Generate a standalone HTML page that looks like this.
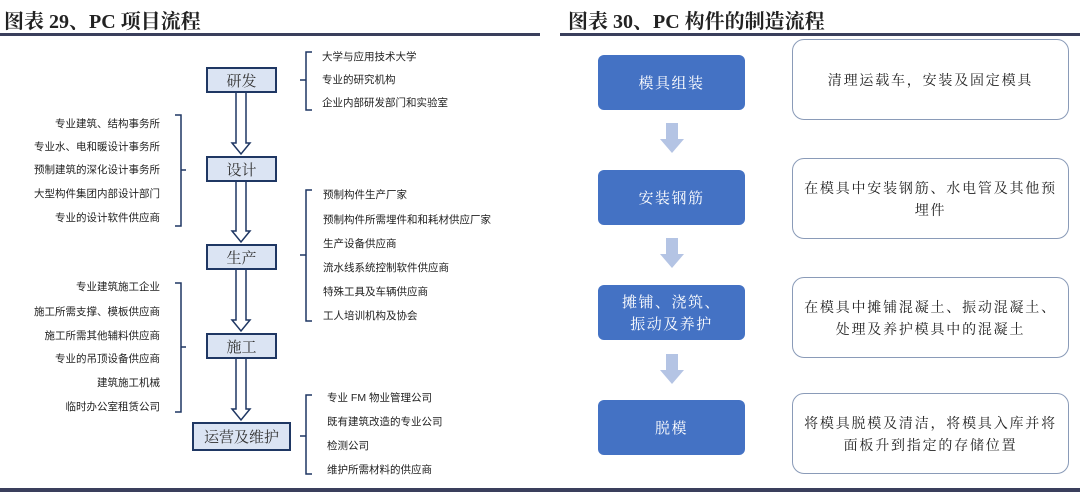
<!DOCTYPE html>
<html><head><meta charset="utf-8"><style>
body{margin:0;width:1080px;height:494px;background:#fff;position:relative;overflow:hidden;font-family:"Liberation Sans","Noto Sans CJK SC",sans-serif;}
.t{position:absolute;font-family:"Liberation Serif","Noto Serif CJK SC",serif;font-weight:bold;font-size:20px;color:#222;top:5px;}
.hl{position:absolute;height:3px;background:#3a3f5c;}
.b{position:absolute;background:#dbe4f3;border:2px solid #1f3763;box-sizing:border-box;display:flex;align-items:center;justify-content:center;font-family:"Noto Serif CJK SC",serif;font-size:15px;color:#333;}
.s{position:absolute;font-size:10.5px;color:#222;white-space:nowrap;line-height:12px;}
.r{text-align:right;}
.bb{position:absolute;background:#4472c4;border-radius:6px;color:#fff;display:flex;align-items:center;justify-content:center;text-align:center;font-family:"Noto Serif CJK SC",serif;font-size:15px;letter-spacing:1.5px;line-height:22px;}
.wb{position:absolute;border:1px solid #8a9bb8;border-radius:12px;background:#fff;box-sizing:border-box;display:flex;align-items:center;justify-content:center;text-align:center;font-family:"Noto Serif CJK SC",serif;font-size:14px;letter-spacing:1.8px;color:#222;padding:0 6px;line-height:22px;}
</style></head><body>
<div class="t" style="left:4px">图表 29、PC 项目流程</div>
<div class="t" style="left:568px">图表 30、PC 构件的制造流程</div>
<div class="hl" style="left:0;width:540px;top:33px"></div>
<div class="hl" style="width:520px;top:33px;left:560px"></div>
<div class="hl" style="left:0;width:1080px;top:488px;height:4px"></div>

<svg width="1080" height="494" style="position:absolute;left:0;top:0" fill="none" stroke="#1f3763" stroke-width="1.5">
<g fill="#fff" stroke="#1f3763" stroke-width="1.5">
<path d="M236 92 V143 H232 L241 154 L250 143 H246 V92 Z"/>
<path d="M236 181 V231 H232 L241 242 L250 231 H246 V181 Z"/>
<path d="M236 269 V320 H232 L241 331 L250 320 H246 V269 Z"/>
<path d="M236 358 V409 H232 L241 420 L250 409 H246 V358 Z"/>
</g>
<path d="M312 52 H306 V110 H312 M306 80 H300"/>
<path d="M312 190 H306 V321 H312 M306 255 H300"/>
<path d="M312 395 H306 V474 H312 M306 436 H300"/>
<path d="M175 115 H181 V226 H175 M181 170 H186"/>
<path d="M175 283 H181 V412 H175 M181 347 H186"/>
<g fill="#b4c4e4" stroke="none">
<path d="M666 123 H678 V139 H684 L672 153 L660 139 H666 Z"/>
<path d="M666 238 H678 V254 H684 L672 268 L660 254 H666 Z"/>
<path d="M666 354 H678 V370 H684 L672 384 L660 370 H666 Z"/>
</g>
</svg>

<div class="b" style="left:206px;top:67px;width:71px;height:26px">研发</div>
<div class="b" style="left:206px;top:156px;width:71px;height:26px">设计</div>
<div class="b" style="left:206px;top:244px;width:71px;height:26px">生产</div>
<div class="b" style="left:206px;top:333px;width:71px;height:26px">施工</div>
<div class="b" style="left:192px;top:422px;width:99px;height:29px">运营及维护</div>

<div class="s" style="left:322px;top:51px">大学与应用技术大学</div>
<div class="s" style="left:322px;top:74px">专业的研究机构</div>
<div class="s" style="left:322px;top:97px">企业内部研发部门和实验室</div>

<div class="s r" style="right:920px;top:118px">专业建筑、结构事务所</div>
<div class="s r" style="right:920px;top:141px">专业水、电和暖设计事务所</div>
<div class="s r" style="right:920px;top:164px">预制建筑的深化设计事务所</div>
<div class="s r" style="right:920px;top:188px">大型构件集团内部设计部门</div>
<div class="s r" style="right:920px;top:212px">专业的设计软件供应商</div>

<div class="s" style="left:323px;top:189px">预制构件生产厂家</div>
<div class="s" style="left:323px;top:214px">预制构件所需埋件和和耗材供应厂家</div>
<div class="s" style="left:323px;top:238px">生产设备供应商</div>
<div class="s" style="left:323px;top:262px">流水线系统控制软件供应商</div>
<div class="s" style="left:323px;top:286px">特殊工具及车辆供应商</div>
<div class="s" style="left:323px;top:310px">工人培训机构及协会</div>

<div class="s r" style="right:920px;top:281px">专业建筑施工企业</div>
<div class="s r" style="right:920px;top:306px">施工所需支撑、模板供应商</div>
<div class="s r" style="right:920px;top:330px">施工所需其他辅料供应商</div>
<div class="s r" style="right:920px;top:353px">专业的吊顶设备供应商</div>
<div class="s r" style="right:920px;top:377px">建筑施工机械</div>
<div class="s r" style="right:920px;top:401px">临时办公室租赁公司</div>

<div class="s" style="left:327px;top:392px">专业 FM 物业管理公司</div>
<div class="s" style="left:327px;top:416px">既有建筑改造的专业公司</div>
<div class="s" style="left:327px;top:440px">检测公司</div>
<div class="s" style="left:327px;top:464px">维护所需材料的供应商</div>

<div class="bb" style="left:598px;top:55px;width:147px;height:55px">模具组装</div>
<div class="bb" style="left:598px;top:170px;width:147px;height:55px">安装钢筋</div>
<div class="bb" style="left:598px;top:285px;width:147px;height:55px">摊铺、浇筑、<br>振动及养护</div>
<div class="bb" style="left:598px;top:400px;width:147px;height:55px">脱模</div>

<div class="wb" style="left:792px;top:39px;width:277px;height:81px">清理运载车，安装及固定模具</div>
<div class="wb" style="left:792px;top:158px;width:277px;height:81px">在模具中安装钢筋、水电管及其他预<br>埋件</div>
<div class="wb" style="left:792px;top:277px;width:277px;height:81px">在模具中摊铺混凝土、振动混凝土、<br>处理及养护模具中的混凝土</div>
<div class="wb" style="left:792px;top:393px;width:277px;height:81px">将模具脱模及清洁，将模具入库并将<br>面板升到指定的存储位置</div>
</body></html>
